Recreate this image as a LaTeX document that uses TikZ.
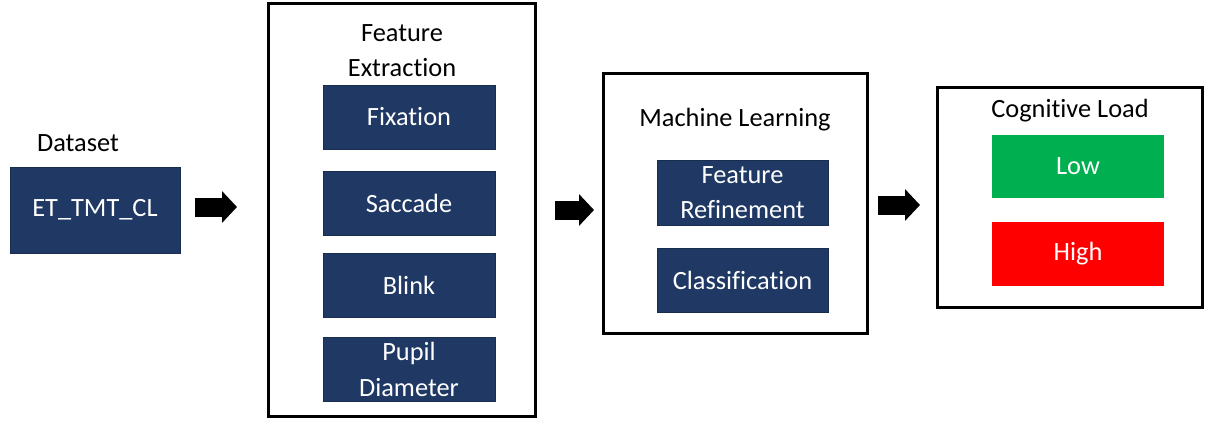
\documentclass[tikz,border=0pt]{standalone}
\usepackage{fontspec}
\setmainfont[Ligatures=NoCommon]{Carlito}
\usetikzlibrary{arrows.meta}
\definecolor{navy}{RGB}{31,56,100}
\definecolor{lowgreen}{RGB}{0,176,80}
\definecolor{highred}{RGB}{255,0,0}
\begin{document}
\begin{tikzpicture}[x=0.02cm, y=-0.02cm,
  every node/.style={font=\fontsize{15}{20}\selectfont},
  frame/.style={draw=black, line width=0.06cm, fill=white},
  item/.style={fill=navy, draw=navy!80!black, text=white, align=center, minimum width=3.44cm, minimum height=1.28cm, inner sep=0pt},
  result/.style={item, draw=none, fill=#1},
  title/.style={align=center, text=black},
  flow/.style={-{Triangle[length=0.3cm, width=0.62cm]}, line width=0.38cm, draw=black}]
\useasboundingbox (0,0) rectangle (1213,423);
% dataset
\node[title] (dslabel) at (78,143) {Dataset};
\node[item, minimum width=3.4cm, minimum height=1.72cm] (ds) at (95,210) {ET\_TMT\_CL};
% feature extraction
\node[frame, minimum width=5.36cm, minimum height=8.28cm] (fe) at (402,210) {};
\node[title] (fetitle) at (402,51) {Feature\\Extraction};
\node[item] (fix) at (409,117) {Fixation};
\node[item] (sac) at (409,203) {Saccade};
\node[item] (bli) at (409,285) {Blink};
\node[item] (pup) at (409,369.5) {Pupil\\Diameter};
% machine learning
\node[frame, minimum width=5.3cm, minimum height=5.22cm] (ml) at (735.5,203.5) {};
\node[title] (mltitle) at (735,120) {Machine Learning};
\node[item, minimum width=3.42cm, minimum height=1.3cm] (ref) at (742.5,192.5) {Feature\\Refinement};
\node[item, minimum width=3.42cm] (cls) at (742.5,280) {Classification};
% cognitive load
\node[frame, minimum width=5.32cm, minimum height=4.42cm] (cl) at (1070,197.5) {};
\node[title] (cltitle) at (1070,111) {Cognitive Load};
\node[result=lowgreen, minimum height=1.26cm] (low) at (1078,166.5) {Low};
\node[result=highred] (high) at (1078,254) {High};
% arrows between stages
\coordinate (a1s) at (195,207);
\coordinate (a1e) at (237,207);
\coordinate (a2s) at (555,210);
\coordinate (a2e) at (594,210);
\coordinate (a3s) at (878,205);
\coordinate (a3e) at (920,205);
\draw[flow] (a1s) -- (a1e);
\draw[flow] (a2s) -- (a2e);
\draw[flow] (a3s) -- (a3e);
\end{tikzpicture}
\end{document}
